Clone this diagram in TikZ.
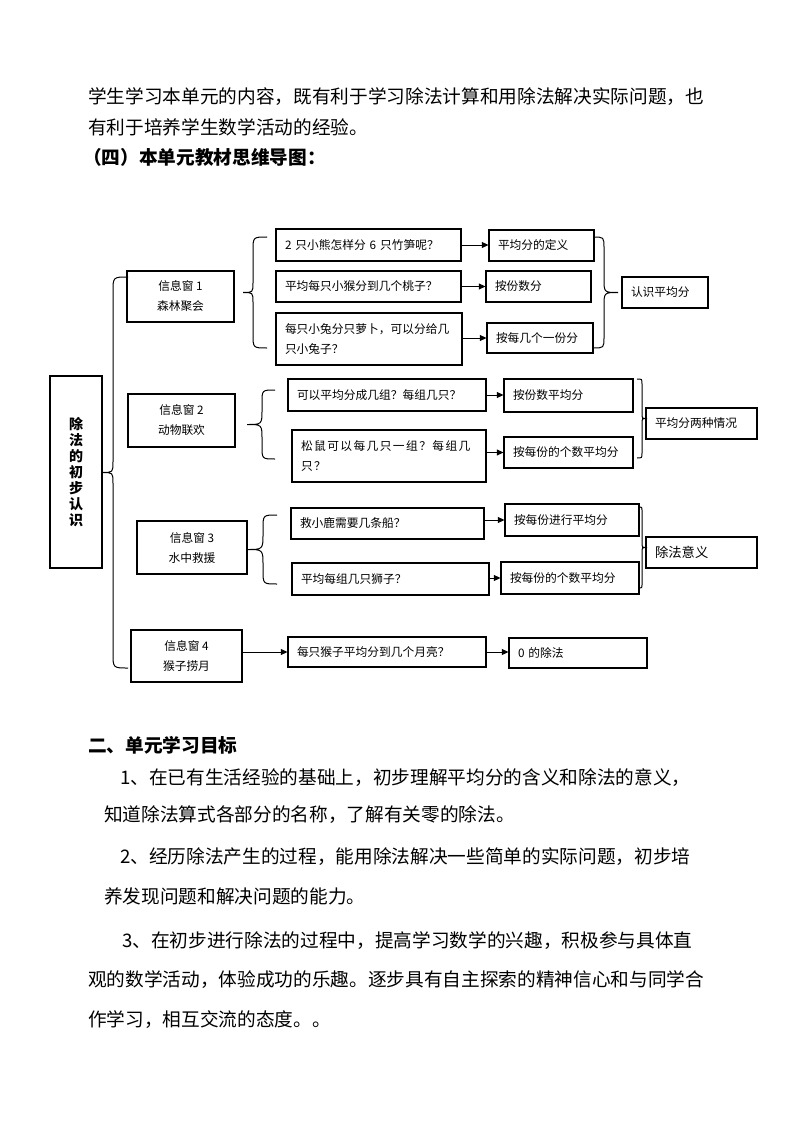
\documentclass[tikz,border=0pt]{standalone}
\usepackage{fontspec}
\setmainfont{Noto Sans CJK SC}
\usetikzlibrary{calc, arrows.meta}

% curly bracket: end x, middle x, tip x, top y, bottom y
\newcommand{\curlybr}[5]{%
  \draw[brk] (#1,#4) .. controls (#2,#4) .. (#2,{#4+abs(#1-#2)})
    -- (#2,{(#4+#5)/2-abs(#3-#2)}) .. controls (#2,{(#4+#5)/2}) .. (#3,{(#4+#5)/2})
    .. controls (#2,{(#4+#5)/2}) .. (#2,{(#4+#5)/2+abs(#3-#2)})
    -- (#2,{#5-abs(#1-#2)}) .. controls (#2,#5) .. (#1,#5);}

\begin{document}
\begin{tikzpicture}[
		x=0.75pt, y=-0.75pt,
		para/.style={anchor=west, inner sep=0pt, font=\fontsize{14}{16}\selectfont},
		head/.style={para, font=\fontsize{14}{16}\selectfont\bfseries},
		box/.style={draw, line width=0.8pt, inner xsep=6.75pt, inner ysep=0pt, font=\fontsize{8.8}{15}\selectfont},
		win/.style 2 args={box, align=center, minimum width=#1, minimum height=#2},
		ask/.style 2 args={box, align=left, text width=#1, minimum height=#2},
		brk/.style={line width=0.75pt},
		arr/.style={line width=0.75pt, -{Triangle[length=5pt,width=4.5pt]}}]
		\useasboundingbox (0,0) rectangle (794,1123);
		% text above the map
		\node[para] (p1) at (88,97) {学生学习本单元的内容，既有利于学习除法计算和用除法解决实际问题，也};
		\node[para] (p2) at (88,127) {有利于培养学生数学活动的经验。};
		\node[head] (h4) at (83,157) {（四）本单元教材思维导图：};
		% root and windows
		\node[box, align=center, minimum width=39pt, minimum height=144pt,
			font=\fontsize{10.5}{12}\selectfont\bfseries] (root) at (76,472) {除\\法\\的\\初\\步\\认\\识};
		\node[win={80.25pt}{38.25pt}] (w1) at (180.5,296.5) {信息窗 1\\森林聚会};
		\node[win={80.25pt}{39.75pt}] (w2) at (181.5,420.5) {信息窗 2\\动物联欢};
		\node[win={82.5pt}{39.75pt}]  (w3) at (192,547.5)   {信息窗 3\\水中救援};
		\node[win={83.25pt}{39pt}]    (w4) at (186.5,656)   {信息窗 4\\猴子捞月};
		% questions
		\node[ask={125.25pt}{24pt}]   (q1) at (368.5,245)   {2 只小熊怎样分 6 只竹笋呢？};
		\node[ask={125.25pt}{23.25pt}] (q2) at (368.5,286.5) {平均每只小猴分到几个桃子？};
		\node[ask={126pt}{39pt}]      (q3) at (369,339)     {每只小兔分只萝卜，可以分给几\\只小兔子？};
		\node[ask={135pt}{24pt}]      (q4) at (387,395)     {可以平均分成几组？每组几只？};
		\node[ask={132pt}{39pt}, font=\fontsize{8.8}{15}\selectfont\addfontfeatures{LetterSpace=12}]
			(q5) at (389,456) {松鼠可以每几只一组？每组几\\只？};
		\node[ask={131.25pt}{23.25pt}] (q6) at (387.5,523.5) {救小鹿需要几条船？};
		\node[ask={134.25pt}{24pt}]   (q7) at (390.5,579)   {平均每组几只狮子？};
		\node[ask={135pt}{22.5pt}]    (q8) at (387,652)     {每只猴子平均分到几个月亮？};
		% answers
		\node[ask={65.25pt}{23.25pt}] (a1) at (541.5,245.5) {平均分的定义};
		\node[ask={65.25pt}{23.25pt}] (a2) at (538.5,286.5) {按份数分};
		\node[ask={66pt}{22.5pt}]     (a3) at (540,338)     {按每几个一份分};
		\node[ask={83.25pt}{24.75pt}] (a4) at (568.5,395.5) {按份数平均分};
		\node[ask={83.25pt}{23.25pt}] (a5) at (568.5,452.5) {按每份的个数平均分};
		\node[ask={87pt}{24pt}]       (a6) at (572,520)     {按每份进行平均分};
		\node[ask={90pt}{24pt}]       (a7) at (570,578)     {按每份的个数平均分};
		\node[ask={90pt}{22.5pt}]     (a8) at (578,653)     {0 的除法};
		% summaries
		\node[ask={51pt}{23.25pt}]    (r1) at (665,292.5)   {认识平均分};
		\node[ask={69.75pt}{23.25pt}] (r2) at (701.5,423.5) {平均分两种情况};
		\node[ask={69.75pt}{23.25pt}, font=\fontsize{10}{12}\selectfont] (r3) at (701.5,552.5) {除法意义};
		% arrows
		\draw[arr] (q1.east) -- (q1.east -| a1.west);
		\draw[arr] (q2.east) -- (q2.east -| a2.west);
		\draw[arr] (q3.east |- a3.west) -- (a3.west);
		\draw[arr] (q4.east) -- (q4.east -| a4.west);
		\draw[arr] (q5.east |- a5.west) -- (a5.west);
		\draw[arr] (q6.east |- a6.west) -- (a6.west);
		\draw[arr] (q7.east |- a7.west) -- (a7.west);
		\draw[arr] (w4.east |- q8.west) -- (q8.west);
		\draw[arr] (q8.east) -- (q8.east -| a8.west);
		% brackets
		\curlybr{128}{113}{102}{277}{668}
		\curlybr{267}{253}{243}{237}{348}
		\curlybr{275}{262}{247}{390}{459}
		\curlybr{277}{263}{247}{515}{584}
		\curlybr{593}{604}{618}{237}{348}
		\curlybr{637}{642}{647}{379}{458}
		\curlybr{639}{642}{647}{507}{588}
		% text below the map
		\node[head] (h2) at (88,745) {二、单元学习目标};
		\node[para] (g1)  at (120,778) {1、在已有生活经验的基础上，初步理解平均分的含义和除法的意义，};
		\node[para] (g1b) at (104,815) {知道除法算式各部分的名称，了解有关零的除法。};
		\node[para] (g2)  at (120,857) {2、经历除法产生的过程，能用除法解决一些简单的实际问题，初步培};
		\node[para] (g2b) at (104,896) {养发现问题和解决问题的能力。};
		\node[para] (g3)  at (122,941) {3、在初步进行除法的过程中，提高学习数学的兴趣，积极参与具体直};
		\node[para] (g3b) at (88,980)  {观的数学活动，体验成功的乐趣。逐步具有自主探索的精神信心和与同学合};
		\node[para] (g3c) at (88,1020) {作学习，相互交流的态度。。};
\end{tikzpicture}
\end{document}
